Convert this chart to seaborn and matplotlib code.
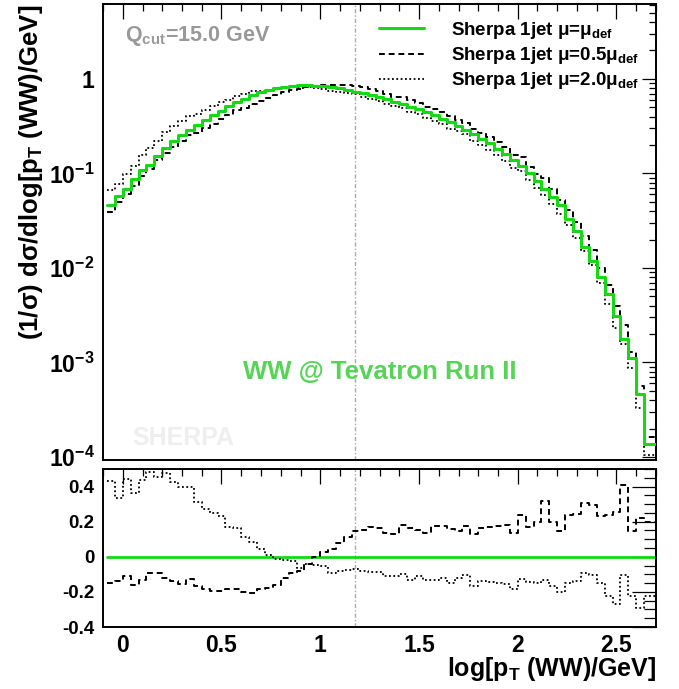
import numpy as np
import pandas as pd
import matplotlib
matplotlib.use("Agg")
import matplotlib.pyplot as plt
import seaborn as sns
from matplotlib.ticker import FixedLocator, MultipleLocator, NullFormatter, FixedFormatter

# ---------------- data ----------------
bin_low, bin_high, n_bins = -0.08, 2.72, 70
q_cut = 15.0

green_def = [0.0464, 0.0578, 0.068, 0.088, 0.108, 0.124, 0.153, 0.186, 0.222, 0.258,
             0.289, 0.324, 0.368, 0.413, 0.462, 0.514, 0.571, 0.619, 0.68, 0.72,
             0.765, 0.797, 0.823, 0.836, 0.857, 0.857, 0.85, 0.836, 0.83, 0.797,
             0.765, 0.734, 0.705, 0.672, 0.640, 0.614, 0.575, 0.543, 0.509, 0.477,
             0.444, 0.413, 0.380, 0.351, 0.318, 0.289, 0.262, 0.233, 0.209, 0.183,
             0.161, 0.139, 0.120, 0.100, 0.083, 0.068, 0.057, 0.046, 0.0333, 0.0244,
             0.0166, 0.0119, 0.0081, 0.0053, 0.00313, 0.00176, 0.00112, 0.000464, 0.000137, 0.000137]

ratio_half = [-0.149, -0.136, -0.108, -0.162, -0.132, -0.094, -0.094, -0.123, -0.136, -0.155,
              -0.126, -0.166, -0.183, -0.193, -0.193, -0.185, -0.185, -0.202, -0.206, -0.185,
              -0.177, -0.159, -0.121, -0.092, -0.083, -0.042, -0.004, 0.025, 0.044, 0.077,
              0.115, 0.147, 0.153, 0.172, 0.162, 0.134, 0.128, 0.181, 0.162, 0.153,
              0.134, 0.176, 0.178, 0.158, 0.149, 0.178, 0.128, 0.162, 0.170, 0.174,
              0.181, 0.134, 0.238, 0.172, 0.197, 0.319, 0.200, 0.147, 0.238, 0.244,
              0.304, 0.294, 0.232, 0.238, 0.253, 0.408, 0.147, 0.219, 0.200, 0.200]

ratio_double = [0.431, 0.332, 0.442, 0.361, 0.436, 0.483, 0.455, 0.480, 0.427, 0.398,
                0.398, 0.310, 0.272, 0.247, 0.234, 0.172, 0.162, 0.115, 0.083, 0.045,
                0.008, -0.013, -0.017, -0.026, -0.062, -0.040, -0.049, -0.055, -0.093, -0.079,
                -0.075, -0.068, -0.079, -0.087, -0.087, -0.111, -0.111, -0.098, -0.130, -0.111,
                -0.130, -0.130, -0.121, -0.149, -0.121, -0.106, -0.168, -0.140, -0.143, -0.149,
                -0.155, -0.181, -0.125, -0.143, -0.149, -0.130, -0.168, -0.200, -0.149, -0.140,
                -0.092, -0.102, -0.149, -0.225, -0.268, -0.102, -0.225, -0.291, -0.225, -0.225]

series_labels = [r"Sherpa 1jet $\mathrm{\mu}$=$\mathrm{\mu}_{\mathbf{def}}$",
                 r"Sherpa 1jet $\mathrm{\mu}$=0.5$\mathrm{\mu}_{\mathbf{def}}$",
                 r"Sherpa 1jet $\mathrm{\mu}$=2.0$\mathrm{\mu}_{\mathbf{def}}$"]

x_ticks = [0, 0.5, 1, 1.5, 2, 2.5]
x_tick_labels = ["0", "0.5", "1", "1.5", "2", "2.5"]
y_top_ticks = [1e-4, 1e-3, 1e-2, 1e-1, 1]
y_top_labels = [r"$\mathbf{10^{-4}}$", r"$\mathbf{10^{-3}}$", r"$\mathbf{10^{-2}}$", r"$\mathbf{10^{-1}}$", "1"]
y_bot_ticks = [-0.4, -0.2, 0, 0.2, 0.4]
y_bot_labels = ["-0.4", "-0.2", "0", "0.2", "0.4"]

# ---------------- style ----------------
sns.set_theme(style="white")
plt.rcParams.update({
    "font.family": ["Liberation Sans", "DejaVu Sans"],
    "font.weight": "bold",
    "mathtext.fontset": "custom",
    "mathtext.rm": "Liberation Sans",
    "mathtext.bf": "Liberation Sans:bold",
    "mathtext.it": "Liberation Sans:italic",
    "mathtext.sf": "Liberation Sans",
    "text.color": "black",
    "axes.edgecolor": "black",
    "xtick.color": "black",
    "ytick.color": "black",
    "axes.linewidth": 1.4,
})

GREEN = "#14d914"
edges = np.linspace(bin_low, bin_high, n_bins + 1)
green = np.array(green_def)
half = green * (1 + np.array(ratio_half))
double = green * (1 + np.array(ratio_double))


def steps(v):
    v = np.asarray(v, dtype=float)
    return np.append(v, v[-1])


fig = plt.figure(figsize=(6.79, 6.89), dpi=100)
W, H = 679, 689
ax_top = fig.add_axes([103 / W, 1 - 460 / H, (656 - 103) / W, (460 - 4) / H])
ax_bot = fig.add_axes([103 / W, 1 - 627 / H, (656 - 103) / W, (627 - 469) / H])

dash = (0, (3, 2))
dot = (0, (1, 1.4))

# top panel
sns.lineplot(x=edges, y=steps(half), ax=ax_top, color="black", lw=1.4, ls=dash,
             drawstyle="steps-post", estimator=None, sort=False, label=series_labels[1], legend=False)
sns.lineplot(x=edges, y=steps(double), ax=ax_top, color="black", lw=1.3, ls=dot,
             drawstyle="steps-post", estimator=None, sort=False, label=series_labels[2], legend=False)
sns.lineplot(x=edges, y=steps(green), ax=ax_top, color=GREEN, lw=2.2,
             drawstyle="steps-post", estimator=None, sort=False, label=series_labels[0], legend=False)
l_half, l_double, l_green = ax_top.lines[:3]
l_green.set_zorder(5)

# bottom panel
sns.lineplot(x=edges, y=steps(np.zeros(n_bins)), ax=ax_bot, color=GREEN, lw=2.0,
             drawstyle="steps-post", estimator=None, sort=False, legend=False)
sns.lineplot(x=edges, y=steps(ratio_half), ax=ax_bot, color="black", lw=1.4, ls=dash,
             drawstyle="steps-post", estimator=None, sort=False, legend=False)
sns.lineplot(x=edges, y=steps(ratio_double), ax=ax_bot, color="black", lw=1.3, ls=dot,
             drawstyle="steps-post", estimator=None, sort=False, legend=False)

for ax in (ax_top, ax_bot):
    ax.axvline(np.log10(q_cut), color="#aaaaaa", lw=1.0, ls=(0, (3, 1.5, 1, 1.5)), zorder=1)
    ax.set_xlim(-0.1, 2.7)
    ax.set_xlabel("")
    ax.set_ylabel("")
    ax.xaxis.set_major_locator(FixedLocator(x_ticks))
    ax.xaxis.set_minor_locator(MultipleLocator(0.1))
    ax.tick_params(which="both", direction="in", top=True, right=True, width=0.9)
    ax.tick_params(axis="x", which="major", length=10.5)
    ax.tick_params(axis="x", which="minor", length=5)
    for s in ax.spines.values():
        s.set_linewidth(1.4)
        s.set_color("black")

ax_top.set_yscale("log")
ax_top.set_ylim(9.3e-5, 6.2)
ax_top.yaxis.set_major_locator(FixedLocator(y_top_ticks))
minors = [m * 10.0 ** e for e in range(-5, 1) for m in range(2, 10)]
ax_top.yaxis.set_minor_locator(FixedLocator(minors))
ax_top.yaxis.set_minor_formatter(NullFormatter())
ax_top.yaxis.set_major_formatter(FixedFormatter(y_top_labels))
ax_top.tick_params(axis="y", which="major", length=10, labelsize=16.5, pad=6)
ax_top.tick_params(axis="y", which="minor", length=5)
ax_top.xaxis.set_major_formatter(NullFormatter())

ax_bot.set_ylim(-0.4, 0.5)
ax_bot.yaxis.set_major_locator(FixedLocator(y_bot_ticks))
ax_bot.yaxis.set_major_formatter(FixedFormatter(y_bot_labels))
ax_bot.yaxis.set_minor_locator(MultipleLocator(0.05))
ax_bot.tick_params(axis="y", which="major", length=17, labelsize=13.5, pad=6)
ax_bot.tick_params(axis="y", which="minor", length=8.5)
ax_bot.xaxis.set_major_formatter(FixedFormatter(x_tick_labels))
ax_bot.tick_params(axis="x", which="major", labelsize=16.5, pad=5)

for lab in ax_top.get_yticklabels() + ax_bot.get_yticklabels() + ax_bot.get_xticklabels():
    lab.set_fontweight("bold")

# legend
ax_top.legend(handles=[l_green, l_half, l_double], labels=series_labels,
              loc="upper left", bbox_to_anchor=(379 / W, 1 - 20 / H), bbox_transform=fig.transFigure,
              frameon=False, handlelength=2.4, handletextpad=1.45, labelspacing=0.22,
              borderaxespad=0, borderpad=0, prop={"family": "Liberation Sans", "weight": "bold", "size": 13.5})

# texts
fig.text(125 / W, 1 - 41 / H, r"Q$_{\mathbf{cut}}$=" + f"{q_cut:.1f} GeV", color="#999999",
         fontsize=15.5, ha="left", va="baseline", fontweight="bold")
fig.text(380 / W, 1 - 379 / H, "WW @ Tevatron Run II", color="#55d455",
         fontsize=18.5, ha="center", va="baseline", fontweight="bold")
fig.text(132 / W, 1 - 445 / H, "SHERPA", color="#eeeeee",
         fontsize=18, ha="left", va="baseline", fontweight="bold", zorder=0)
fig.text(31 / W, 1 - 5 / H, r"(1/$\mathrm{\sigma}$) d$\mathrm{\sigma}$/dlog[p$_{\mathbf{T}}$ (WW)/GeV]",
         rotation=90, ha="center", va="top", fontsize=18.5, fontweight="bold")
fig.text(656 / W, 1 - 676 / H, r"log[p$_{\mathbf{T}}$ (WW)/GeV]",
         ha="right", va="baseline", fontsize=18, fontweight="bold")

fig.savefig("out.png", dpi=100)
